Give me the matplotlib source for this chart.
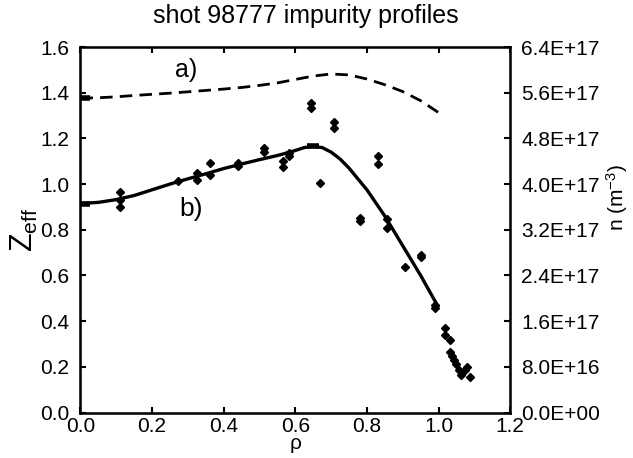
import matplotlib
matplotlib.use("Agg")
import matplotlib.pyplot as plt
from matplotlib.ticker import FormatStrFormatter, MultipleLocator

plt.rcParams['font.family'] = ['Liberation Sans', 'DejaVu Sans']
plt.rcParams['mathtext.default'] = 'regular'

# measured Zeff points
pts_rho = [0.11, 0.11, 0.11, 0.273, 0.326, 0.326, 0.362, 0.362, 0.439, 0.439,
           0.513, 0.513, 0.565, 0.565, 0.583, 0.583, 0.643, 0.643, 0.669,
           0.708, 0.708, 0.781, 0.781, 0.832, 0.832, 0.857, 0.857, 0.906,
           0.95, 0.95, 0.99, 0.99,
           1.018, 1.018, 1.032, 1.032, 1.037, 1.043, 1.05, 1.056, 1.062,
           1.079, 1.074, 1.088]
pts_zeff = [0.965, 0.93, 0.90, 1.015, 1.047, 1.018, 1.091, 1.04, 1.094, 1.079,
            1.159, 1.139, 1.101, 1.076, 1.135, 1.123, 1.354, 1.332, 1.006,
            1.272, 1.246, 0.85, 0.84, 1.123, 1.088, 0.846, 0.806, 0.638,
            0.682, 0.69, 0.47, 0.456,
            0.369, 0.339, 0.317, 0.266, 0.249, 0.23, 0.211, 0.186, 0.164,
            0.2, 0.186, 0.157]

# curve b) fitted Zeff profile
zeff_rho = [0.0, 0.05, 0.1, 0.15, 0.2, 0.25, 0.3, 0.35, 0.4, 0.45, 0.5, 0.55,
            0.6, 0.625, 0.65, 0.675, 0.7, 0.725, 0.75, 0.8, 0.85, 0.9, 0.95, 1.0]
zeff_fit = [0.915, 0.92, 0.932, 0.95, 0.975, 1.0, 1.023, 1.045, 1.068, 1.088,
            1.107, 1.125, 1.147, 1.16, 1.165, 1.16, 1.14, 1.11, 1.07, 0.975,
            0.86, 0.73, 0.60, 0.46]

# curve a) impurity density (plotted on Zeff scale)
dens_rho = [0.0, 0.05, 0.1, 0.15, 0.2, 0.25, 0.3, 0.35, 0.4, 0.45, 0.5, 0.55,
            0.6, 0.65, 0.7, 0.75, 0.8, 0.85, 0.9, 0.95, 1.0]
dens_val = [1.376, 1.378, 1.382, 1.388, 1.393, 1.398, 1.404, 1.41, 1.416,
            1.423, 1.432, 1.443, 1.458, 1.473, 1.482, 1.478, 1.46, 1.435,
            1.405, 1.365, 1.313]

fig = plt.figure(figsize=(6.33, 4.58), dpi=100)
ax = fig.add_axes([0.127, 0.0993, 0.679, 0.798])

ax.plot(dens_rho, dens_val, color='black', lw=2.0, ls=(0, (4.5, 2.6)))
ax.plot(dens_rho[:1], dens_val[:1], color='black', marker='_', ms=14, mew=4)
ax.plot(zeff_rho, zeff_fit, color='black', lw=2.4, solid_capstyle='butt')
ax.plot(zeff_rho[:1], zeff_fit[:1], color='black', marker='_', ms=14, mew=4)
ax.plot(zeff_rho[14:15], zeff_fit[14:15], color='black', marker='_', ms=8, mew=4)
ax.plot(pts_rho, pts_zeff, ls='none', marker='D', ms=4.2, color='black')

ax.text(0.295, 1.50, 'a)', fontsize=18, ha='center', va='center')
ax.text(0.31, 0.89, 'b)', fontsize=19, ha='center', va='center')

ax.set_xlim(0, 1.2)
ax.set_ylim(0, 1.6)
ax.xaxis.set_major_locator(MultipleLocator(0.2))
ax.yaxis.set_major_locator(MultipleLocator(0.2))
ax.xaxis.set_major_formatter(FormatStrFormatter('%.1f'))
ax.yaxis.set_major_formatter(FormatStrFormatter('%.1f'))
ax.tick_params(direction='in', length=4, width=1.5, labelsize=15, top=True,
               right=False)
ax.tick_params(axis='x', pad=3)
ax.tick_params(axis='y', pad=8)
for s in ax.spines.values():
    s.set_linewidth(1.8)

ax2 = ax.twinx()
ax2.set_ylim(0, 6.4e17)
ax2.yaxis.set_major_locator(MultipleLocator(8e16))
ax2.yaxis.set_major_formatter(FormatStrFormatter('%.1E'))
ax2.tick_params(direction='in', length=4, width=1.5, labelsize=15, pad=8)
ax2.yaxis.get_offset_text().set_visible(False)

ax.set_title('shot 98777 impurity profiles', fontsize=18, pad=17, x=0.525)
ax.set_xlabel('ρ', fontsize=15, labelpad=-1)
ax.set_ylabel('Z$_{eff}$', fontsize=22, labelpad=0)
ax2.set_ylabel('n (m$^{-3}$)', fontsize=15)
ax2.yaxis.set_label_coords(1.219, 0.587)

fig.savefig('out.png', dpi=100)
